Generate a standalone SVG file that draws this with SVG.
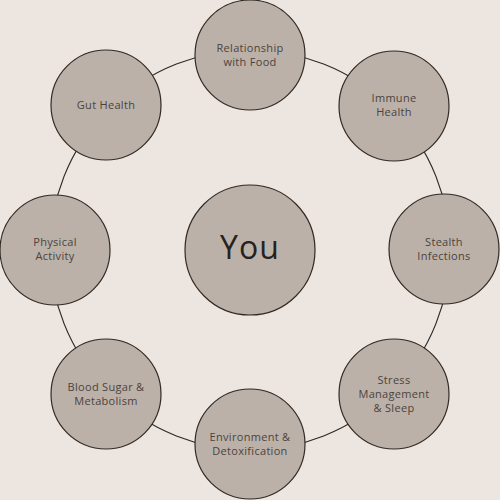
<svg xmlns="http://www.w3.org/2000/svg" width="500" height="500" viewBox="0 0 500 500">
<style>
.node{fill:#bcb1a8;stroke:#2f2a25;stroke-width:1.2}
.lbl{font-family:"Open Sans","Noto Sans",sans-serif;font-size:11px;letter-spacing:0.3px;fill:#4a443e;text-anchor:middle}
.you{font-family:"Open Sans","Noto Sans",sans-serif;font-size:32px;letter-spacing:1px;fill:#26221e;text-anchor:middle}
</style>
<rect width="500" height="500" fill="#ede5df"/>
<g id="connectors">
<circle cx="250" cy="250" r="200" fill="none" stroke="#2f2a25" stroke-width="1.2"/>
</g>
<g id="you"><circle class="node" cx="250" cy="250" r="65"/><text class="you" x="250" y="259">You</text></g>
<g id="food"><circle class="node" cx="250" cy="55" r="55"/><text class="lbl" x="250" y="52">Relationship</text><text class="lbl" x="250" y="66">with Food</text></g>
<g id="immune"><circle class="node" cx="394" cy="106" r="55"/><text class="lbl" x="394" y="102">Immune</text><text class="lbl" x="394" y="116">Health</text></g>
<g id="stealth"><circle class="node" cx="444" cy="249" r="55"/><text class="lbl" x="444" y="246">Stealth</text><text class="lbl" x="444" y="260">Infections</text></g>
<g id="stress"><circle class="node" cx="394" cy="394" r="55"/><text class="lbl" x="394" y="384">Stress</text><text class="lbl" x="394" y="398">Management</text><text class="lbl" x="394" y="412">&amp; Sleep</text></g>
<g id="env"><circle class="node" cx="250" cy="444" r="55"/><text class="lbl" x="250" y="441">Environment &amp;</text><text class="lbl" x="250" y="455">Detoxification</text></g>
<g id="blood"><circle class="node" cx="106" cy="394" r="55"/><text class="lbl" x="106" y="391">Blood Sugar &amp;</text><text class="lbl" x="106" y="405">Metabolism</text></g>
<g id="physical"><circle class="node" cx="55" cy="250" r="55"/><text class="lbl" x="55" y="246">Physical</text><text class="lbl" x="55" y="260">Activity</text></g>
<g id="gut"><circle class="node" cx="106" cy="105" r="55"/><text class="lbl" x="106" y="109">Gut Health</text></g>
</svg>
